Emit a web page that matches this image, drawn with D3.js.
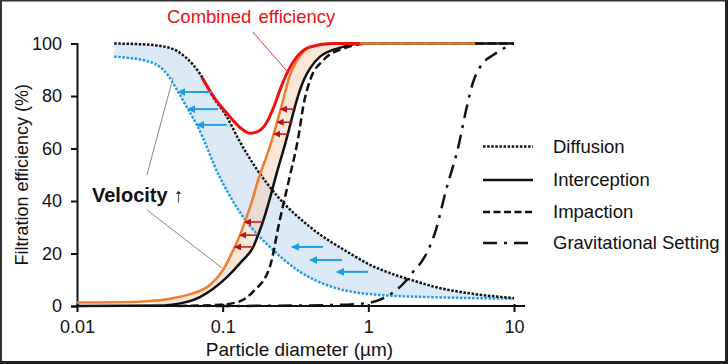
<!DOCTYPE html>
<html><head><meta charset="utf-8">
<script src="https://cdn.jsdelivr.net/npm/d3@7"></script>
<style>
html,body{margin:0;padding:0;background:#fff;}
svg{display:block;}
text{font-family:"Liberation Sans",Arial,sans-serif;fill:#111;}
</style></head>
<body>
<svg id="c" width="728" height="364"></svg>
<script>
// ---- data (x: particle diameter in µm, y: filtration efficiency in %) ----
const xTicks = [0.01, 0.1, 1, 10];
const xTickLabels = ["0.01", "0.1", "1", "10"];
const yTicks = [0, 20, 40, 60, 80, 100];

const diffusion = [[0.018,100],[0.03,99.6],[0.0435,98.3],[0.055,95],[0.0698,88.5],[0.085,80],[0.107,72],[0.13,63],[0.172,52],[0.236,42],[0.4,30],[0.75,20],[1.0,16],[1.5,12],[2,9.8],[3,7],[5,4.8],[10,3]];
const diffusionHighV = [[0.018,95],[0.0317,93],[0.042,88],[0.0495,81.5],[0.0578,75],[0.0665,69],[0.0957,49],[0.142,33],[0.211,22.5],[0.34,13],[0.57,7.2],[1.2,4.2],[3,3.3],[10,2.8]];
const interception = [[0.01,0],[0.04,0.2],[0.0435,0.4],[0.0698,3.4],[0.107,11],[0.135,17],[0.162,22.5],[0.175,27],[0.19,32.5],[0.211,41],[0.236,51],[0.26,59],[0.28,65.5],[0.3,72],[0.325,79],[0.36,86],[0.398,90.5],[0.466,95],[0.67,98.7],[0.875,100],[10,100]];
const interceptionHighV = [[0.01,1.3],[0.02,1.4],[0.03,1.8],[0.0435,2.8],[0.06,4.5],[0.0818,8],[0.1,13.5],[0.121,22.5],[0.1315,27],[0.142,32],[0.154,37.6],[0.18,50],[0.2,57],[0.22,64],[0.235,69.5],[0.25,75],[0.27,82],[0.29,88],[0.324,93.5],[0.398,98.5],[0.572,100],[5.4,100]];
const impaction = [[0.05,0],[0.0957,0.5],[0.127,1.5],[0.162,5.5],[0.211,15],[0.245,32],[0.285,48],[0.33,64],[0.36,77],[0.398,86],[0.487,93.5],[0.71,98.5],[1.0,100],[10,100]];
const gravitational = [[0.09,0],[0.5,0.3],[0.933,1],[1.24,2.7],[1.84,10],[2.06,13.5],[2.33,17],[2.91,29],[3.41,44],[4.12,60],[4.75,76],[5.22,85],[6.11,92.5],[7.16,95.5],[9.8,100]];
const combined = [[0.0721,87],[0.0885,79],[0.107,73.4],[0.1315,68],[0.154,65.8],[0.175,66.5],[0.201,70],[0.225,76],[0.25,83],[0.281,89.5],[0.324,95],[0.398,98.7],[0.572,100],[0.875,100]];

// arrows: [y, head x, tail x]
const blueArrows = [[81.5,0.0495,0.0846],[75,0.0578,0.0929],[69,0.0665,0.107],[22.5,0.299,0.488],[17.5,0.398,0.659],[13,0.608,0.993]];
const redArrows = [[75,0.25,0.318],[70,0.237,0.302],[65.5,0.225,0.285],[32,0.142,0.19],[27,0.1315,0.175],[22.5,0.121,0.162]];
// annotation leader lines: [x1,y1,x2,y2]
const velocityLeaders = [[0.0302,49.9,0.0456,86.9],[0.0302,36.6,0.099,14.5]];
const combinedLeader = [0.161,104.4,0.281,89];

const legendItems = [
  {label:"Diffusion", dash:"2.5,1.6", w:2.5},
  {label:"Interception", dash:null, w:2.5},
  {label:"Impaction", dash:"7,3.5", w:2.5},
  {label:"Gravitational Setting", dash:"14,7,3,7", w:2.5}
];

// ---- drawing ----
const svg = d3.select("#c");
const x = d3.scaleLog().domain([0.01, 10]).range([77, 514]);
const y = d3.scaleLinear().domain([0, 100]).range([306, 43.5]);

// frame
svg.append("rect").attr("x",1).attr("y",0.5).attr("width",725).attr("height",361.5)
  .attr("fill","none").attr("stroke","#333").attr("stroke-width",2);
svg.append("line").attr("x1",726.5).attr("x2",726.5).attr("y1",0).attr("y2",364).attr("stroke","#222").attr("stroke-width",3);
svg.append("line").attr("x1",0).attr("x2",728).attr("y1",362.5).attr("y2",362.5).attr("stroke","#222").attr("stroke-width",3);

const line = d3.line().x(d=>x(d[0])).y(d=>y(d[1])).curve(d3.curveMonotoneX);
function band(upper, lower){
  const a = line(upper);
  const b = line(lower.slice().reverse());
  return a + "L" + b.slice(1) + "Z";
}

// bands
svg.append("path").attr("d", band(diffusion, diffusionHighV)).attr("fill","#dce9f6").attr("stroke","none");
const orangeBandUpper = interceptionHighV.filter(d=>d[0]>=0.03 && d[0]<=0.9);
const orangeBandLower = interception.filter(d=>d[0]>=0.03 && d[0]<=0.9);
svg.append("path").attr("d", band(orangeBandUpper, orangeBandLower)).attr("fill","#f7c9a8").attr("fill-opacity",0.45).attr("stroke","none");

// axes
const gx = svg.append("g").attr("transform",`translate(0,${y(0)})`)
  .call(d3.axisBottom(x).tickValues(xTicks).tickFormat((d,i)=>xTickLabels[i]).tickSize(6).tickPadding(8));
gx.select(".domain").attr("d",`M${x(0.01)},0H${x(10)+11}`);
const gy = svg.append("g").attr("transform",`translate(${x(0.01)},0)`)
  .call(d3.axisLeft(y).tickValues(yTicks).tickSize(6).tickPadding(9));
[gx,gy].forEach(g=>{
  g.select(".domain").attr("stroke","#111").attr("stroke-width",2);
  g.selectAll(".tick line").attr("stroke","#111").attr("stroke-width",2);
  g.selectAll(".tick text").attr("font-size",18).attr("fill","#111").attr("font-family",'"Liberation Sans",Arial,sans-serif');
});
gx.selectAll(".tick line").attr("y1",-2);

svg.append("text").attr("x",(x(0.01)+x(10))/2+4).attr("y",356).attr("text-anchor","middle").attr("font-size",19).text("Particle diameter (µm)");
svg.append("text").attr("transform",`translate(28,${(y(0)+y(100))/2}) rotate(-90)`).attr("text-anchor","middle").attr("font-size",18).text("Filtration efficiency (%)");

// curves
function curve(data, color, w, dash){
  const p = svg.append("path").attr("d", line(data)).attr("fill","none").attr("stroke",color).attr("stroke-width",w);
  if(dash) p.attr("stroke-dasharray",dash);
  return p;
}
curve(diffusionHighV, "#1f9be8", 2.5, "2.5,1.6");
curve(diffusion, "#111", 2.5, "2.5,1.6");
curve(gravitational, "#111", 2.5, "14,7,3,7");
curve(impaction, "#111", 2.5, "8,4");
curve(interception, "#111", 2.5, null);
curve(interceptionHighV, "#ed7d31", 2.5, null);
curve(combined, "#ee1111", 3, null);

// arrow markers
const defs = svg.append("defs");
function marker(id, color, size){
  defs.append("marker").attr("id",id).attr("viewBox","0 0 10 10").attr("refX",9).attr("refY",5)
    .attr("markerWidth",size).attr("markerHeight",size).attr("markerUnits","userSpaceOnUse").attr("orient","auto")
    .append("path").attr("d","M0,0L10,5L0,10Z").attr("fill",color);
}
marker("bh","#1f9be8",8);
marker("rh","#b8141c",7);
svg.selectAll(".barrow").data(blueArrows).join("line")
  .attr("x1",d=>x(d[2])).attr("x2",d=>x(d[1])).attr("y1",d=>y(d[0])).attr("y2",d=>y(d[0]))
  .attr("stroke","#1f9be8").attr("stroke-width",2).attr("marker-end","url(#bh)");
svg.selectAll(".rarrow").data(redArrows).join("line")
  .attr("x1",d=>x(d[2])).attr("x2",d=>x(d[1])).attr("y1",d=>y(d[0])).attr("y2",d=>y(d[0]))
  .attr("stroke","#b8141c").attr("stroke-width",1.5).attr("marker-end","url(#rh)");

// annotations
svg.selectAll(".vlead").data(velocityLeaders).join("line")
  .attr("x1",d=>x(d[0])).attr("y1",d=>y(d[1])).attr("x2",d=>x(d[2])).attr("y2",d=>y(d[3]))
  .attr("stroke","#888").attr("stroke-width",1);
svg.append("line").attr("x1",x(combinedLeader[0])).attr("y1",y(combinedLeader[1]))
  .attr("x2",x(combinedLeader[2])).attr("y2",y(combinedLeader[3])).attr("stroke","#e03030").attr("stroke-width",1);
svg.append("text").attr("x",92).attr("y",202).attr("font-size",20).attr("font-weight","bold").text("Velocity ↑");
svg.append("text").attr("x",167).attr("y",23).attr("font-size",18.5).style("fill","#e81010").attr("word-spacing",2).text("Combined efficiency");

// legend
const lg = svg.append("g");
const rows = [146.5, 180, 212, 243];
legendItems.forEach((it,i)=>{
  const l = lg.append("line").attr("x1",483).attr("x2",533).attr("y1",rows[i]).attr("y2",rows[i])
    .attr("stroke","#111").attr("stroke-width",it.w);
  if(it.dash) l.attr("stroke-dasharray",it.dash);
  lg.append("text").attr("x",553).attr("y",rows[i]).attr("dy","0.35em").attr("font-size",18.5).text(it.label);
});
</script>
</body></html>
